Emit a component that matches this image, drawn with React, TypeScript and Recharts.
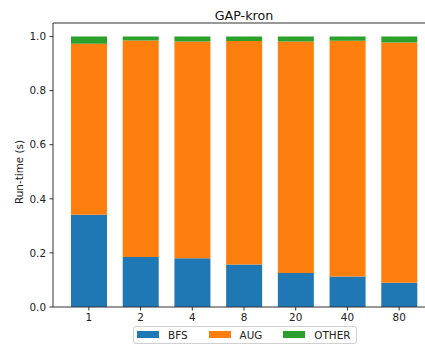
import { BarChart, Bar, XAxis, YAxis, Legend, ReferenceLine, Label } from 'recharts'

const categories = ['1', '2', '4', '8', '20', '40', '80']
const bfs = [0.341, 0.185, 0.18, 0.157, 0.126, 0.113, 0.09]
const aug = [0.632, 0.8, 0.802, 0.826, 0.856, 0.871, 0.888]
const other = [0.027, 0.015, 0.018, 0.017, 0.018, 0.016, 0.022]
const yTicks = [0, 0.2, 0.4, 0.6, 0.8, 1.0]
const seriesNames = ['BFS', 'AUG', 'OTHER']

const colors: Record<string, string> = { BFS: '#1f77b4', AUG: '#ff7f0e', OTHER: '#2ca02c' }

const data = categories.map((name, i) => ({
  name,
  BFS: bfs[i],
  AUG: aug[i],
  OTHER: other[i],
}))

const font = 'DejaVu Sans'
const ink = '#222'
const spine = '#333'

// legend keeps the plotting order (matplotlib style), not recharts' payload order
const LegendBox = () => (
  <div
    style={{
      display: 'flex',
      alignItems: 'center',
      height: 18,
      border: '1px solid #d0d0d0',
      borderRadius: 3,
      padding: '0 6px 0 3px',
      boxSizing: 'border-box',
      background: '#fff',
      fontFamily: font,
      fontSize: 10.4,
      lineHeight: '12px',
      color: ink,
      whiteSpace: 'nowrap',
    }}
  >
    {seriesNames.map((name, i) => (
      <div key={name} style={{ display: 'flex', alignItems: 'center', marginLeft: i ? 21 : 0 }}>
        <span style={{ display: 'inline-block', width: 22, height: 7, background: colors[name], marginRight: 9 }} />
        <span>{name}</span>
      </div>
    ))}
  </div>
)

const YTitle = () => (
  <text
    x={19}
    y={172}
    transform="rotate(-90 19 172)"
    textAnchor="middle"
    dominantBaseline="central"
    fontSize={10.4}
    fontFamily={font}
    fill={ink}
  >
    Run-time (s)
  </text>
)

const App = () => {
  return (
    <div
      style={{
        position: 'absolute',
        left: 0,
        top: 0,
        width: 425,
        height: 345,
        overflow: 'hidden',
        background: '#fff',
        fontFamily: font,
      }}
    >
      <BarChart width={440} height={345} data={data} margin={{ top: 23, right: 5, bottom: 8, left: 0 }}>
        <XAxis
          dataKey="name"
          height={30}
          padding={{ left: 10, right: 10 }}
          tickSize={3.5}
          tickMargin={3}
          tick={{ fontSize: 10.4, fill: ink, fontFamily: font }}
          axisLine={{ stroke: spine }}
          tickLine={{ stroke: spine }}
        />
        <YAxis
          width={53}
          domain={[0, 1.05]}
          ticks={yTicks}
          tickFormatter={(v: number) => v.toFixed(1)}
          tickSize={3.5}
          tickMargin={3.5}
          tick={{ fontSize: 10.4, fill: ink, fontFamily: font }}
          axisLine={{ stroke: spine }}
          tickLine={{ stroke: spine }}
        >
          <Label content={<YTitle />} />
        </YAxis>
        <ReferenceLine
          y={1.05}
          stroke={spine}
          label={{ value: 'GAP-kron', position: 'top', offset: 3.5, fontSize: 12.7, fill: '#111', fontFamily: font }}
        />
        <Legend
          verticalAlign="middle"
          align="center"
          layout="horizontal"
          wrapperStyle={{ left: 133, top: 325.5, width: 'auto' }}
          content={<LegendBox />}
        />
        <Bar dataKey="BFS" stackId="a" fill={colors.BFS} barSize={36} isAnimationActive={false} />
        <Bar dataKey="AUG" stackId="a" fill={colors.AUG} barSize={36} isAnimationActive={false} />
        <Bar dataKey="OTHER" stackId="a" fill={colors.OTHER} barSize={36} isAnimationActive={false} />
      </BarChart>
    </div>
  )
}

export default App
